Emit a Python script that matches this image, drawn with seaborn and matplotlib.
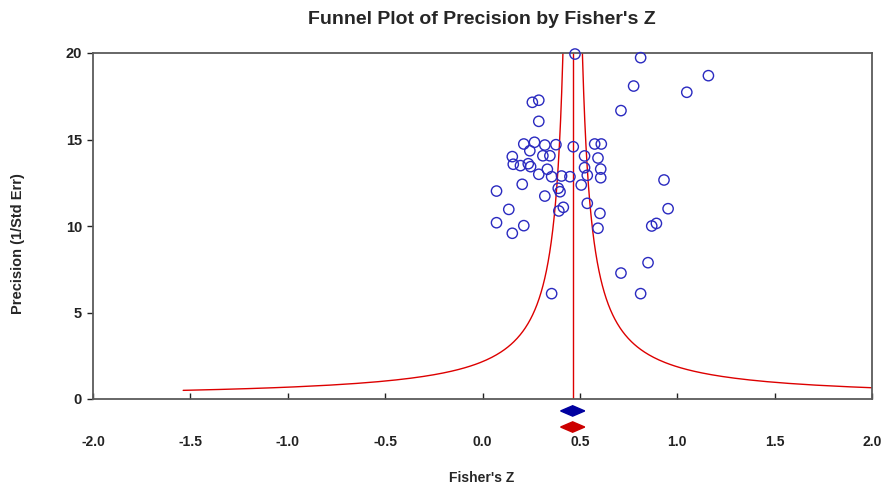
import numpy as np
import pandas as pd
import matplotlib
matplotlib.use('Agg')
import matplotlib.pyplot as plt
import seaborn as sns

# Effektgroessen (Fisher's Z) und Praezision (1/SE)
fisher_z = [0.475, 0.812, 0.776, 1.160, 1.049, 0.711, 0.256, 0.289, 0.289,
            0.212, 0.267, 0.320, 0.377, 0.466, 0.576, 0.610, 0.243,
            0.153, 0.310, 0.346, 0.524, 0.593,
            0.158, 0.195, 0.235, 0.247, 0.333, 0.524, 0.607, 0.607,
            0.289, 0.355, 0.406, 0.449, 0.538, 0.507,
            0.072, 0.204, 0.320, 0.389, 0.398, 0.538, 0.415, 0.392,
            0.135, 0.072, 0.212, 0.153, 0.603, 0.593,
            0.932, 0.953, 0.869, 0.893, 0.850, 0.711, 0.812, 0.355]
precision = [19.94, 19.73, 18.09, 18.69, 17.73, 16.67, 17.15, 17.27, 16.05,
             14.74, 14.84, 14.68, 14.70, 14.58, 14.74, 14.74, 14.35,
             14.01, 14.06, 14.06, 14.05, 13.93,
             13.57, 13.49, 13.60, 13.43, 13.28, 13.37, 13.29, 12.79,
             12.99, 12.85, 12.89, 12.85, 12.93, 12.37,
             12.02, 12.41, 11.73, 12.18, 11.98, 11.31, 11.08, 10.87,
             10.96, 10.19, 10.02, 9.58, 10.73, 9.87,
             12.66, 11.00, 10.00, 10.15, 7.88, 7.28, 6.09, 6.09]

mean_z = 0.463          # Gesamtschaetzer
diamond_half = 0.062    # halbe Breite der Rauten (KI)
x_ticks = [-2.0, -1.5, -1.0, -0.5, 0.0, 0.5, 1.0, 1.5, 2.0]
y_ticks = [0, 5, 10, 15, 20]

df = pd.DataFrame({'z': fisher_z, 'prec': precision})

sns.set_style('white')
plt.rcParams['font.family'] = ['Liberation Sans', 'DejaVu Sans']
plt.rcParams['font.weight'] = 'bold'

fig = plt.figure(figsize=(8.82, 4.88), dpi=100)
ax = fig.add_axes([93 / 882, 89 / 488, 779 / 882, 346 / 488])

# Trichter: mean +/- 1/Praezision
p = np.linspace(0.5, 20.5, 400)
ax.plot(mean_z - 1 / p, p, color='#dd0000', lw=1)
ax.plot(mean_z + 1 / p, p, color='#dd0000', lw=1)
ax.plot([mean_z, mean_z], [0, 20], color='#dd0000', lw=1)

sns.scatterplot(data=df, x='z', y='prec', ax=ax, s=55, marker='o',
                facecolor='none', edgecolor='#2a2ac0', linewidth=1, zorder=3,
                clip_on=False)

# Rauten unterhalb der Achse
for yc, col in [(-0.69, '#0000a0'), (-1.62, '#cc0000')]:
    ax.fill([mean_z - diamond_half, mean_z, mean_z + diamond_half, mean_z],
            [yc, yc + 0.3, yc, yc - 0.3], color=col, clip_on=False, zorder=4)

ax.set_xlim(-2.0, 2.0)
ax.set_ylim(0, 20)
ax.set_xticks(x_ticks)
ax.set_xticklabels([f'{t:.1f}' for t in x_ticks])
ax.set_yticks(y_ticks)
ax.tick_params(axis='x', direction='in', length=4, width=1, pad=26,
               labelsize=10, colors='#222222')
ax.tick_params(axis='y', direction='out', length=4, width=1, pad=4,
               labelsize=10.5, colors='#222222')
ax.tick_params(left=True, bottom=True)
for s in ax.spines.values():
    s.set_color('#5a5a5a')
    s.set_linewidth(1.3)

ax.set_xlabel('')
ax.set_ylabel('')
fig.text(18 / 882, 0.5, 'Precision (1/Std Err)', rotation=90, ha='center',
         va='center', fontsize=10.5, fontweight='bold')
fig.text(482 / 882, 10 / 488, "Fisher's Z", ha='center', va='center',
         fontsize=10, fontweight='bold')
fig.text(482 / 882, 1 - 20 / 488, "Funnel Plot of Precision by Fisher's Z",
         ha='center', va='center', fontsize=14, fontweight='bold')

fig.savefig('out.png', dpi=100)
